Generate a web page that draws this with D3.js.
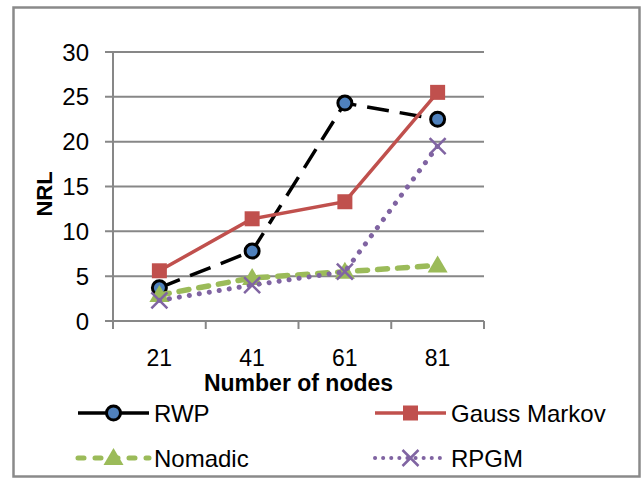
<!DOCTYPE html>
<html>
<head>
<meta charset="utf-8">
<script src="https://cdn.jsdelivr.net/npm/d3@7"></script>
<style>
  body { margin: 0; background: #fff; }
  text { font-family: "Liberation Sans", Arial, sans-serif; fill: #000; }
</style>
</head>
<body>
<div id="chart"></div>
<script>
// chart values
let nodes = ["21", "41", "61", "81"]
let rwp = [3.7, 7.8, 24.3, 22.5]
let gaussMarkov = [5.6, 11.4, 13.3, 25.5]
let nomadic = [2.9, 4.8, 5.5, 6.2]
let rpgm = [2.3, 4.0, 5.5, 19.5]
let yTicks = [0, 5, 10, 15, 20, 25, 30]

let W = 642, H = 478
let plot = { left: 113, right: 484, top: 52, bottom: 321 }

let svg = d3.select("#chart")
  .append("svg")
  .attr("width", W)
  .attr("height", H)

// outer frame
svg.append("rect")
  .attr("x", 13.5).attr("y", 7.5)
  .attr("width", 626).attr("height", 469)
  .attr("fill", "none")
  .attr("stroke", "#8a8a8a")
  .attr("stroke-width", 2.5)

let x = d3.scaleBand()
  .domain(nodes)
  .range([plot.left, plot.right])
let y = d3.scaleLinear()
  .domain([0, 30])
  .range([plot.bottom, plot.top])
let cx = d => x(d) + x.bandwidth() / 2

// gridlines + y ticks
svg.append("g")
  .selectAll("line")
  .data(yTicks)
  .join("line")
  .attr("x1", plot.left - 8)
  .attr("x2", plot.right)
  .attr("y1", d => y(d))
  .attr("y2", d => y(d))
  .attr("stroke", "#878787")
  .attr("stroke-width", 2)

svg.append("g")
  .selectAll("text")
  .data(yTicks)
  .join("text")
  .attr("x", 89)
  .attr("y", d => y(d) + 8.5)
  .attr("text-anchor", "end")
  .style("font-size", "24px")
  .text(d => d)

// y axis line
svg.append("line")
  .attr("x1", plot.left).attr("x2", plot.left)
  .attr("y1", plot.top).attr("y2", plot.bottom + 8)
  .attr("stroke", "#878787")
  .attr("stroke-width", 2)

// x tick marks at category boundaries
let bounds = d3.range(nodes.length + 1).map(i => plot.left + i * x.step())
svg.append("g")
  .selectAll("line")
  .data(bounds.slice(1))
  .join("line")
  .attr("x1", d => d).attr("x2", d => d)
  .attr("y1", plot.bottom).attr("y2", plot.bottom + 8)
  .attr("stroke", "#878787")
  .attr("stroke-width", 2)

svg.append("g")
  .selectAll("text")
  .data(nodes)
  .join("text")
  .attr("x", d => cx(d))
  .attr("y", 366)
  .attr("text-anchor", "middle")
  .style("font-size", "23px")
  .text(d => d)

// axis titles
svg.append("text")
  .attr("x", (plot.left + plot.right) / 2)
  .attr("y", 391)
  .attr("text-anchor", "middle")
  .style("font-size", "23px")
  .style("font-weight", "bold")
  .text("Number of nodes")

svg.append("text")
  .attr("transform", "translate(52," + 194 + ") rotate(-90)")
  .attr("text-anchor", "middle")
  .style("font-size", "22px")
  .style("font-weight", "bold")
  .text("NRL")

// series
let series = [
  { name: "RWP", values: rwp, color: "#000", width: 3.5, dash: "22,11", cap: "butt", marker: "circle" },
  { name: "Gauss Markov", values: gaussMarkov, color: "#c0504d", width: 3.5, dash: null, cap: "butt", marker: "square" },
  { name: "Nomadic", values: nomadic, color: "#9bbb59", width: 5.5, dash: "10,10", cap: "round", marker: "triangle" },
  { name: "RPGM", values: rpgm, color: "#8064a2", width: 5, dash: "0.1,10", cap: "round", marker: "cross" }
]

let line = d3.line()
  .x((d, i) => cx(nodes[i]))
  .y(d => y(d))

const drawMarker = (g, s, px, py) => {
  if (s.marker == "circle") {
    g.append("circle")
      .attr("cx", px).attr("cy", py).attr("r", 7)
      .attr("fill", "#4f81bd")
      .attr("stroke", "#000")
      .attr("stroke-width", 3)
  } else if (s.marker == "square") {
    g.append("rect")
      .attr("x", px - 7.5).attr("y", py - 7.5)
      .attr("width", 15).attr("height", 15)
      .attr("fill", s.color)
  } else if (s.marker == "triangle") {
    g.append("path")
      .attr("d", `M${px},${py - 10}L${px + 10},${py + 7}L${px - 10},${py + 7}Z`)
      .attr("fill", s.color)
  } else {
    g.append("path")
      .attr("d", `M${px - 8},${py - 8}L${px + 8},${py + 8}M${px + 8},${py - 8}L${px - 8},${py + 8}`)
      .attr("stroke", s.color)
      .attr("stroke-width", 2.5)
  }
}

series.forEach(s => {
  let g = svg.append("g")
  g.append("path")
    .datum(s.values)
    .attr("d", line)
    .attr("fill", "none")
    .attr("stroke", s.color)
    .attr("stroke-width", s.width)
    .attr("stroke-dasharray", s.dash)
    .attr("stroke-linecap", s.cap)
  s.values.forEach((v, i) => drawMarker(g, s, cx(nodes[i]), y(v)))
})

// legend
let legendPos = [[78, 413], [375, 413], [78, 458], [375, 458]]
series.forEach((s, i) => {
  let [lx, ly] = legendPos[i]
  let g = svg.append("g")
  g.append("line")
    .attr("x1", lx).attr("x2", lx + 71)
    .attr("y1", ly).attr("y2", ly)
    .attr("stroke", s.color)
    .attr("stroke-width", s.name == "Nomadic" ? 5 : (s.name == "RPGM" ? 4 : 3.5))
    .attr("stroke-dasharray", s.name == "RWP" ? null : (s.name == "Nomadic" ? "6,11" : (s.name == "RPGM" ? "0.1,8" : s.dash)))
    .attr("stroke-linecap", s.cap)
  drawMarker(g, s, lx + 35.5, ly)
  g.append("text")
    .attr("x", lx + 76)
    .attr("y", ly + 9)
    .style("font-size", "24px")
    .text(s.name)
})
</script>
</body>
</html>
